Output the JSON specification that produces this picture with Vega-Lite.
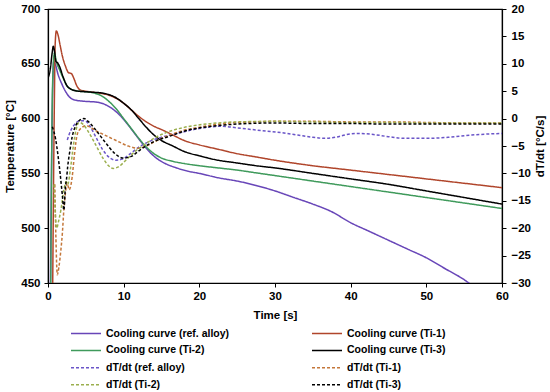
{
"$schema":"https://vega.github.io/schema/vega-lite/v6.json",
"width":454,"height":274,
"autosize":{"type":"none"},
"padding":{"left":48,"top":9,"right":48,"bottom":109},
"background":"white",
"config":{"font":"Liberation Sans","view":{"stroke":"black","strokeWidth":1.2},
"axis":{"labelFont":"Liberation Sans","labelFontWeight":"bold","labelFontSize":11.5,"labelColor":"black","titleFont":"Liberation Sans","titleFontWeight":"bold","titleFontSize":11.5,"titleColor":"black","domainColor":"black","domainWidth":1.2,"tickColor":"black","tickSize":4,"grid":false,"labelOverlap":false}},
"datasets":{
"temp":[
{"s":"Cooling curve (ref. alloy)","t":0.3,"v":430},{"s":"Cooling curve (ref. alloy)","t":0.55,"v":600},{"s":"Cooling curve (ref. alloy)","t":0.75,"v":652},{"s":"Cooling curve (ref. alloy)","t":0.95,"v":650},{"s":"Cooling curve (ref. alloy)","t":1.3,"v":641},{"s":"Cooling curve (ref. alloy)","t":1.8,"v":632},{"s":"Cooling curve (ref. alloy)","t":2.3,"v":625},{"s":"Cooling curve (ref. alloy)","t":2.8,"v":620},{"s":"Cooling curve (ref. alloy)","t":3.5,"v":617},{"s":"Cooling curve (ref. alloy)","t":4.5,"v":616},{"s":"Cooling curve (ref. alloy)","t":5.5,"v":615.5},{"s":"Cooling curve (ref. alloy)","t":6.5,"v":615},{"s":"Cooling curve (ref. alloy)","t":7.5,"v":613},{"s":"Cooling curve (ref. alloy)","t":8.5,"v":609},{"s":"Cooling curve (ref. alloy)","t":9.5,"v":603},{"s":"Cooling curve (ref. alloy)","t":10.5,"v":595},{"s":"Cooling curve (ref. alloy)","t":11.5,"v":586},{"s":"Cooling curve (ref. alloy)","t":12.5,"v":577},{"s":"Cooling curve (ref. alloy)","t":13.5,"v":569},{"s":"Cooling curve (ref. alloy)","t":14.5,"v":563},{"s":"Cooling curve (ref. alloy)","t":15.5,"v":559},{"s":"Cooling curve (ref. alloy)","t":17,"v":555},{"s":"Cooling curve (ref. alloy)","t":18.5,"v":552},{"s":"Cooling curve (ref. alloy)","t":20,"v":550},{"s":"Cooling curve (ref. alloy)","t":22.5,"v":546},{"s":"Cooling curve (ref. alloy)","t":25,"v":543},{"s":"Cooling curve (ref. alloy)","t":27.5,"v":539},{"s":"Cooling curve (ref. alloy)","t":30,"v":534},{"s":"Cooling curve (ref. alloy)","t":32.5,"v":528},{"s":"Cooling curve (ref. alloy)","t":35,"v":522},{"s":"Cooling curve (ref. alloy)","t":37.5,"v":515},{"s":"Cooling curve (ref. alloy)","t":40,"v":505},{"s":"Cooling curve (ref. alloy)","t":42.5,"v":497},{"s":"Cooling curve (ref. alloy)","t":45,"v":489},{"s":"Cooling curve (ref. alloy)","t":47.5,"v":481},{"s":"Cooling curve (ref. alloy)","t":50,"v":473},{"s":"Cooling curve (ref. alloy)","t":52.5,"v":463},{"s":"Cooling curve (ref. alloy)","t":55,"v":453},{"s":"Cooling curve (ref. alloy)","t":56,"v":448},
{"s":"Cooling curve (Ti-1)","t":0.6,"v":430},{"s":"Cooling curve (Ti-1)","t":0.85,"v":620},{"s":"Cooling curve (Ti-1)","t":0.95,"v":668},{"s":"Cooling curve (Ti-1)","t":1.1,"v":680},{"s":"Cooling curve (Ti-1)","t":1.3,"v":677},{"s":"Cooling curve (Ti-1)","t":1.6,"v":667},{"s":"Cooling curve (Ti-1)","t":1.9,"v":657},{"s":"Cooling curve (Ti-1)","t":2.3,"v":648},{"s":"Cooling curve (Ti-1)","t":2.7,"v":642},{"s":"Cooling curve (Ti-1)","t":3.1,"v":641},{"s":"Cooling curve (Ti-1)","t":3.4,"v":637},{"s":"Cooling curve (Ti-1)","t":3.8,"v":630},{"s":"Cooling curve (Ti-1)","t":4.3,"v":626},{"s":"Cooling curve (Ti-1)","t":5,"v":625},{"s":"Cooling curve (Ti-1)","t":6,"v":624},{"s":"Cooling curve (Ti-1)","t":7,"v":623},{"s":"Cooling curve (Ti-1)","t":8,"v":621.5},{"s":"Cooling curve (Ti-1)","t":9,"v":618.5},{"s":"Cooling curve (Ti-1)","t":10,"v":614},{"s":"Cooling curve (Ti-1)","t":11,"v":608},{"s":"Cooling curve (Ti-1)","t":12,"v":602},{"s":"Cooling curve (Ti-1)","t":13,"v":597},{"s":"Cooling curve (Ti-1)","t":14,"v":593},{"s":"Cooling curve (Ti-1)","t":15,"v":590},{"s":"Cooling curve (Ti-1)","t":16.5,"v":585},{"s":"Cooling curve (Ti-1)","t":18,"v":580},{"s":"Cooling curve (Ti-1)","t":20,"v":576},{"s":"Cooling curve (Ti-1)","t":22.5,"v":572},{"s":"Cooling curve (Ti-1)","t":25,"v":568},{"s":"Cooling curve (Ti-1)","t":27.5,"v":565},{"s":"Cooling curve (Ti-1)","t":30,"v":562},{"s":"Cooling curve (Ti-1)","t":35,"v":557},{"s":"Cooling curve (Ti-1)","t":40,"v":553},{"s":"Cooling curve (Ti-1)","t":45,"v":549},{"s":"Cooling curve (Ti-1)","t":50,"v":545},{"s":"Cooling curve (Ti-1)","t":55,"v":541},{"s":"Cooling curve (Ti-1)","t":60,"v":537},
{"s":"Cooling curve (Ti-2)","t":0.35,"v":430},{"s":"Cooling curve (Ti-2)","t":0.6,"v":630},{"s":"Cooling curve (Ti-2)","t":0.85,"v":660},{"s":"Cooling curve (Ti-2)","t":1.1,"v":652},{"s":"Cooling curve (Ti-2)","t":1.5,"v":645},{"s":"Cooling curve (Ti-2)","t":2,"v":637},{"s":"Cooling curve (Ti-2)","t":2.5,"v":630},{"s":"Cooling curve (Ti-2)","t":3,"v":627},{"s":"Cooling curve (Ti-2)","t":4,"v":625},{"s":"Cooling curve (Ti-2)","t":5,"v":624.5},{"s":"Cooling curve (Ti-2)","t":6,"v":623.5},{"s":"Cooling curve (Ti-2)","t":7,"v":621},{"s":"Cooling curve (Ti-2)","t":8,"v":616},{"s":"Cooling curve (Ti-2)","t":9,"v":609},{"s":"Cooling curve (Ti-2)","t":10,"v":600},{"s":"Cooling curve (Ti-2)","t":11,"v":591},{"s":"Cooling curve (Ti-2)","t":12,"v":582},{"s":"Cooling curve (Ti-2)","t":13,"v":574},{"s":"Cooling curve (Ti-2)","t":14,"v":568},{"s":"Cooling curve (Ti-2)","t":15,"v":564},{"s":"Cooling curve (Ti-2)","t":16.5,"v":561},{"s":"Cooling curve (Ti-2)","t":18,"v":559},{"s":"Cooling curve (Ti-2)","t":20,"v":557},{"s":"Cooling curve (Ti-2)","t":22.5,"v":555},{"s":"Cooling curve (Ti-2)","t":25,"v":553},{"s":"Cooling curve (Ti-2)","t":27.5,"v":550.5},{"s":"Cooling curve (Ti-2)","t":30,"v":548},{"s":"Cooling curve (Ti-2)","t":35,"v":543},{"s":"Cooling curve (Ti-2)","t":40,"v":538},{"s":"Cooling curve (Ti-2)","t":45,"v":533},{"s":"Cooling curve (Ti-2)","t":50,"v":528},{"s":"Cooling curve (Ti-2)","t":55,"v":523},{"s":"Cooling curve (Ti-2)","t":60,"v":518},
{"s":"Cooling curve (Ti-3)","t":0,"v":637},{"s":"Cooling curve (Ti-3)","t":0.3,"v":645},{"s":"Cooling curve (Ti-3)","t":0.55,"v":660},{"s":"Cooling curve (Ti-3)","t":0.7,"v":666},{"s":"Cooling curve (Ti-3)","t":0.85,"v":662},{"s":"Cooling curve (Ti-3)","t":1.05,"v":652},{"s":"Cooling curve (Ti-3)","t":1.25,"v":651},{"s":"Cooling curve (Ti-3)","t":1.5,"v":648},{"s":"Cooling curve (Ti-3)","t":2,"v":638},{"s":"Cooling curve (Ti-3)","t":2.5,"v":630},{"s":"Cooling curve (Ti-3)","t":3,"v":627},{"s":"Cooling curve (Ti-3)","t":4,"v":625},{"s":"Cooling curve (Ti-3)","t":5,"v":624.5},{"s":"Cooling curve (Ti-3)","t":6,"v":624},{"s":"Cooling curve (Ti-3)","t":7,"v":623.5},{"s":"Cooling curve (Ti-3)","t":8,"v":622},{"s":"Cooling curve (Ti-3)","t":9,"v":619},{"s":"Cooling curve (Ti-3)","t":10,"v":614},{"s":"Cooling curve (Ti-3)","t":11,"v":608},{"s":"Cooling curve (Ti-3)","t":12,"v":600},{"s":"Cooling curve (Ti-3)","t":13,"v":592},{"s":"Cooling curve (Ti-3)","t":14,"v":585},{"s":"Cooling curve (Ti-3)","t":15,"v":580},{"s":"Cooling curve (Ti-3)","t":16.5,"v":575},{"s":"Cooling curve (Ti-3)","t":18,"v":570},{"s":"Cooling curve (Ti-3)","t":20,"v":566},{"s":"Cooling curve (Ti-3)","t":22.5,"v":562},{"s":"Cooling curve (Ti-3)","t":25,"v":559.5},{"s":"Cooling curve (Ti-3)","t":27.5,"v":557},{"s":"Cooling curve (Ti-3)","t":30,"v":555},{"s":"Cooling curve (Ti-3)","t":35,"v":550},{"s":"Cooling curve (Ti-3)","t":40,"v":545},{"s":"Cooling curve (Ti-3)","t":45,"v":540},{"s":"Cooling curve (Ti-3)","t":50,"v":534},{"s":"Cooling curve (Ti-3)","t":55,"v":528},{"s":"Cooling curve (Ti-3)","t":60,"v":522}
],
"rate":[
{"s":"dT/dt (ref. alloy)","t":2.55,"v":-3.9},{"s":"dT/dt (ref. alloy)","t":3.0,"v":-2.2},{"s":"dT/dt (ref. alloy)","t":3.5,"v":-1.1},{"s":"dT/dt (ref. alloy)","t":4.2,"v":-0.4},{"s":"dT/dt (ref. alloy)","t":4.9,"v":-0.4},{"s":"dT/dt (ref. alloy)","t":5.5,"v":-1.3},{"s":"dT/dt (ref. alloy)","t":6.3,"v":-3.3},{"s":"dT/dt (ref. alloy)","t":7.2,"v":-5.6},{"s":"dT/dt (ref. alloy)","t":8.2,"v":-7.2},{"s":"dT/dt (ref. alloy)","t":9.0,"v":-7.6},{"s":"dT/dt (ref. alloy)","t":9.8,"v":-7.4},{"s":"dT/dt (ref. alloy)","t":10.8,"v":-6.5},{"s":"dT/dt (ref. alloy)","t":12,"v":-5.2},{"s":"dT/dt (ref. alloy)","t":13.5,"v":-4.1},{"s":"dT/dt (ref. alloy)","t":15,"v":-3.4},{"s":"dT/dt (ref. alloy)","t":16.5,"v":-2.9},{"s":"dT/dt (ref. alloy)","t":18,"v":-2.4},{"s":"dT/dt (ref. alloy)","t":20,"v":-1.8},{"s":"dT/dt (ref. alloy)","t":21.6,"v":-1.5},{"s":"dT/dt (ref. alloy)","t":23,"v":-1.4},{"s":"dT/dt (ref. alloy)","t":25,"v":-1.7},{"s":"dT/dt (ref. alloy)","t":27,"v":-2.0},{"s":"dT/dt (ref. alloy)","t":29,"v":-2.3},{"s":"dT/dt (ref. alloy)","t":31,"v":-2.6},{"s":"dT/dt (ref. alloy)","t":33,"v":-3.0},{"s":"dT/dt (ref. alloy)","t":35,"v":-3.4},{"s":"dT/dt (ref. alloy)","t":36.5,"v":-3.6},{"s":"dT/dt (ref. alloy)","t":38,"v":-3.4},{"s":"dT/dt (ref. alloy)","t":39.5,"v":-2.9},{"s":"dT/dt (ref. alloy)","t":41,"v":-2.7},{"s":"dT/dt (ref. alloy)","t":43,"v":-2.9},{"s":"dT/dt (ref. alloy)","t":45,"v":-3.3},{"s":"dT/dt (ref. alloy)","t":47,"v":-3.6},{"s":"dT/dt (ref. alloy)","t":50,"v":-3.6},{"s":"dT/dt (ref. alloy)","t":53,"v":-3.4},{"s":"dT/dt (ref. alloy)","t":56,"v":-3.0},{"s":"dT/dt (ref. alloy)","t":60,"v":-2.7},
{"s":"dT/dt (Ti-1)","t":0.9,"v":-12},{"s":"dT/dt (Ti-1)","t":1.05,"v":-22},{"s":"dT/dt (Ti-1)","t":1.23,"v":-28.5},{"s":"dT/dt (Ti-1)","t":1.45,"v":-27},{"s":"dT/dt (Ti-1)","t":1.7,"v":-24},{"s":"dT/dt (Ti-1)","t":1.9,"v":-20.9},{"s":"dT/dt (Ti-1)","t":2.1,"v":-16.5},{"s":"dT/dt (Ti-1)","t":2.3,"v":-13.6},{"s":"dT/dt (Ti-1)","t":2.55,"v":-11.8},{"s":"dT/dt (Ti-1)","t":2.8,"v":-13},{"s":"dT/dt (Ti-1)","t":3.2,"v":-10.6},{"s":"dT/dt (Ti-1)","t":3.5,"v":-6.5},{"s":"dT/dt (Ti-1)","t":3.9,"v":-2.7},{"s":"dT/dt (Ti-1)","t":4.5,"v":-1.6},{"s":"dT/dt (Ti-1)","t":5.0,"v":-1.3},{"s":"dT/dt (Ti-1)","t":5.5,"v":-1.5},{"s":"dT/dt (Ti-1)","t":6.3,"v":-2.2},{"s":"dT/dt (Ti-1)","t":7.5,"v":-3.0},{"s":"dT/dt (Ti-1)","t":9,"v":-4.0},{"s":"dT/dt (Ti-1)","t":10.6,"v":-5.0},{"s":"dT/dt (Ti-1)","t":11.9,"v":-5.4},{"s":"dT/dt (Ti-1)","t":13,"v":-5.0},{"s":"dT/dt (Ti-1)","t":14,"v":-4.3},{"s":"dT/dt (Ti-1)","t":15,"v":-3.6},{"s":"dT/dt (Ti-1)","t":16.5,"v":-2.8},{"s":"dT/dt (Ti-1)","t":18,"v":-2.1},{"s":"dT/dt (Ti-1)","t":19.5,"v":-1.7},{"s":"dT/dt (Ti-1)","t":21.6,"v":-1.2},{"s":"dT/dt (Ti-1)","t":24,"v":-0.8},{"s":"dT/dt (Ti-1)","t":27,"v":-0.6},{"s":"dT/dt (Ti-1)","t":30,"v":-0.5},{"s":"dT/dt (Ti-1)","t":35,"v":-0.5},{"s":"dT/dt (Ti-1)","t":40,"v":-0.6},{"s":"dT/dt (Ti-1)","t":45,"v":-0.6},{"s":"dT/dt (Ti-1)","t":50,"v":-0.7},{"s":"dT/dt (Ti-1)","t":55,"v":-0.8},{"s":"dT/dt (Ti-1)","t":60,"v":-0.8},
{"s":"dT/dt (Ti-2)","t":0.8,"v":-12},{"s":"dT/dt (Ti-2)","t":0.95,"v":-17},{"s":"dT/dt (Ti-2)","t":1.15,"v":-20},{"s":"dT/dt (Ti-2)","t":1.35,"v":-19},{"s":"dT/dt (Ti-2)","t":1.7,"v":-16.7},{"s":"dT/dt (Ti-2)","t":2.1,"v":-13},{"s":"dT/dt (Ti-2)","t":2.4,"v":-11.5},{"s":"dT/dt (Ti-2)","t":2.6,"v":-12},{"s":"dT/dt (Ti-2)","t":3.0,"v":-8.8},{"s":"dT/dt (Ti-2)","t":3.4,"v":-4.5},{"s":"dT/dt (Ti-2)","t":3.7,"v":-2.1},{"s":"dT/dt (Ti-2)","t":4.1,"v":-0.7},{"s":"dT/dt (Ti-2)","t":4.6,"v":-1.0},{"s":"dT/dt (Ti-2)","t":5.2,"v":-2.1},{"s":"dT/dt (Ti-2)","t":6.2,"v":-4.5},{"s":"dT/dt (Ti-2)","t":7.3,"v":-7.3},{"s":"dT/dt (Ti-2)","t":8.0,"v":-8.6},{"s":"dT/dt (Ti-2)","t":8.6,"v":-9.1},{"s":"dT/dt (Ti-2)","t":9.3,"v":-8.8},{"s":"dT/dt (Ti-2)","t":10.5,"v":-7.3},{"s":"dT/dt (Ti-2)","t":11.5,"v":-6.0},{"s":"dT/dt (Ti-2)","t":12.4,"v":-5.1},{"s":"dT/dt (Ti-2)","t":14,"v":-3.6},{"s":"dT/dt (Ti-2)","t":15.9,"v":-2.4},{"s":"dT/dt (Ti-2)","t":18,"v":-1.6},{"s":"dT/dt (Ti-2)","t":21.6,"v":-0.9},{"s":"dT/dt (Ti-2)","t":25,"v":-0.6},{"s":"dT/dt (Ti-2)","t":30,"v":-0.5},{"s":"dT/dt (Ti-2)","t":35,"v":-0.6},{"s":"dT/dt (Ti-2)","t":40,"v":-0.7},{"s":"dT/dt (Ti-2)","t":45,"v":-0.7},{"s":"dT/dt (Ti-2)","t":50,"v":-0.8},{"s":"dT/dt (Ti-2)","t":55,"v":-0.8},{"s":"dT/dt (Ti-2)","t":60,"v":-0.8},
{"s":"dT/dt (Ti-3)","t":0.57,"v":-1.5},{"s":"dT/dt (Ti-3)","t":0.8,"v":-2.5},{"s":"dT/dt (Ti-3)","t":1.0,"v":-3.7},{"s":"dT/dt (Ti-3)","t":1.3,"v":-6.5},{"s":"dT/dt (Ti-3)","t":1.6,"v":-10},{"s":"dT/dt (Ti-3)","t":1.9,"v":-14},{"s":"dT/dt (Ti-3)","t":2.1,"v":-16.7},{"s":"dT/dt (Ti-3)","t":2.3,"v":-12.5},{"s":"dT/dt (Ti-3)","t":2.45,"v":-11},{"s":"dT/dt (Ti-3)","t":2.6,"v":-8.8},{"s":"dT/dt (Ti-3)","t":2.9,"v":-5.8},{"s":"dT/dt (Ti-3)","t":3.2,"v":-3.3},{"s":"dT/dt (Ti-3)","t":3.6,"v":-1.5},{"s":"dT/dt (Ti-3)","t":3.9,"v":-0.7},{"s":"dT/dt (Ti-3)","t":4.75,"v":0},{"s":"dT/dt (Ti-3)","t":5.3,"v":-0.5},{"s":"dT/dt (Ti-3)","t":6.2,"v":-1.9},{"s":"dT/dt (Ti-3)","t":7.5,"v":-4.2},{"s":"dT/dt (Ti-3)","t":8.7,"v":-6.2},{"s":"dT/dt (Ti-3)","t":9.95,"v":-7.2},{"s":"dT/dt (Ti-3)","t":11,"v":-6.9},{"s":"dT/dt (Ti-3)","t":12,"v":-5.9},{"s":"dT/dt (Ti-3)","t":12.8,"v":-5.1},{"s":"dT/dt (Ti-3)","t":14,"v":-4.2},{"s":"dT/dt (Ti-3)","t":15.9,"v":-3.3},{"s":"dT/dt (Ti-3)","t":18,"v":-2.3},{"s":"dT/dt (Ti-3)","t":21.6,"v":-1.4},{"s":"dT/dt (Ti-3)","t":25,"v":-1.0},{"s":"dT/dt (Ti-3)","t":30,"v":-0.8},{"s":"dT/dt (Ti-3)","t":35,"v":-0.9},{"s":"dT/dt (Ti-3)","t":40,"v":-0.9},{"s":"dT/dt (Ti-3)","t":45,"v":-1.0},{"s":"dT/dt (Ti-3)","t":50,"v":-1.0},{"s":"dT/dt (Ti-3)","t":55,"v":-1.0},{"s":"dT/dt (Ti-3)","t":60,"v":-1.0}
]},
"layer":[
{"data":{"name":"temp"},
"mark":{"type":"line","clip":true,"strokeWidth":1.5,"interpolate":"monotone"},
"encoding":{
"x":{"field":"t","type":"quantitative","scale":{"domain":[0,60],"nice":false},"axis":{"title":"Time [s]","values":[0,5,10,15,20,25,30,35,40,45,50,55,60],"labelPadding":3,"titlePadding":8,"labelFlush":false}},
"y":{"field":"v","type":"quantitative","scale":{"domain":[450,700],"nice":false,"zero":false},"axis":{"title":"Temperature [°C]","orient":"left","values":[450,500,550,600,650,700],"labelPadding":4,"titlePadding":5}},
"color":{"field":"s","type":"nominal","scale":{"domain":["Cooling curve (ref. alloy)","Cooling curve (Ti-1)","Cooling curve (Ti-2)","Cooling curve (Ti-3)","dT/dt (ref. alloy)","dT/dt (Ti-1)","dT/dt (Ti-2)","dT/dt (Ti-3)"],"range":["#6846B8","#B0452B","#3F9A5B","#000000","#6A55C8","#C4773A","#9BAF4E","#000000"]},
"legend":{"orient":"none","legendX":22,"legendY":318,"columns":2,"title":null,"symbolType":"stroke","symbolSize":900,"symbolStrokeWidth":1.5,"clipHeight":12.5,"labelFont":"Liberation Sans","labelFontSize":10.5,"labelFontWeight":"bold","labelColor":"black","columnPadding":81,"rowPadding":4.2,"labelOffset":4,"direction":"horizontal","labelLimit":200}},
"strokeDash":{"field":"s","type":"nominal","scale":{"domain":["Cooling curve (ref. alloy)","Cooling curve (Ti-1)","Cooling curve (Ti-2)","Cooling curve (Ti-3)","dT/dt (ref. alloy)","dT/dt (Ti-1)","dT/dt (Ti-2)","dT/dt (Ti-3)"],"range":[[1,0],[1,0],[1,0],[1,0],[3,2],[3,2],[3,2],[3,2]]},
"legend":{"orient":"none","legendX":22,"legendY":318,"columns":2,"title":null,"symbolType":"stroke","symbolSize":900,"symbolStrokeWidth":1.5,"clipHeight":12.5,"labelFont":"Liberation Sans","labelFontSize":10.5,"labelFontWeight":"bold","labelColor":"black","columnPadding":81,"rowPadding":4.2,"labelOffset":4,"direction":"horizontal","labelLimit":200}}
}},
{"data":{"name":"rate"},
"mark":{"type":"line","clip":true,"strokeWidth":1.5,"interpolate":"monotone"},
"encoding":{
"x":{"field":"t","type":"quantitative","scale":{"domain":[0,60],"nice":false}},
"y":{"field":"v","type":"quantitative","scale":{"domain":[-30,20],"nice":false,"zero":false},"axis":{"title":"dT/dt [°C/s]","orient":"right","values":[-30,-25,-20,-15,-10,-5,0,5,10,15,20],"labelPadding":5,"titleAngle":270,"titleX":38,"titleY":137,"titleAlign":"center","titleBaseline":"middle"}},
"color":{"field":"s","type":"nominal","scale":{"domain":["Cooling curve (ref. alloy)","Cooling curve (Ti-1)","Cooling curve (Ti-2)","Cooling curve (Ti-3)","dT/dt (ref. alloy)","dT/dt (Ti-1)","dT/dt (Ti-2)","dT/dt (Ti-3)"]}},
"strokeDash":{"field":"s","type":"nominal","scale":{"domain":["Cooling curve (ref. alloy)","Cooling curve (Ti-1)","Cooling curve (Ti-2)","Cooling curve (Ti-3)","dT/dt (ref. alloy)","dT/dt (Ti-1)","dT/dt (Ti-2)","dT/dt (Ti-3)"]}}
}}
],
"resolve":{"scale":{"y":"independent"}}
}
